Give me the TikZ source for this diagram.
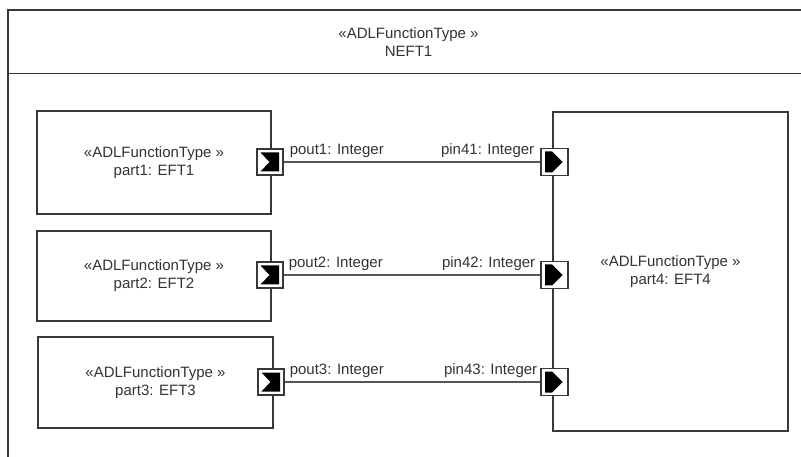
\documentclass[tikz,border=0pt]{standalone}
\usepackage{fontspec}
\setmainfont{Liberation Sans}
\definecolor{edge}{HTML}{383838}
\definecolor{wire}{HTML}{555555}
\definecolor{ink}{HTML}{333333}
\begin{document}
\begin{tikzpicture}[x=1pt,y=-1pt,
  every node/.style={font=\fontsize{15}{18}\selectfont, text=ink},
  part/.style={draw=edge, line width=1.3pt, fill=white, align=center, inner sep=0pt},
  portbox/.style={draw=edge, line width=1.2pt, fill=white, minimum width=26pt, minimum height=26pt, inner sep=0pt},
  conn/.style={draw=wire, line width=1.3pt},
  lbl/.style={inner sep=0pt}]
\useasboundingbox (0,0) rectangle (801,457);
\clip (0,0) rectangle (801,457);
% outer frame
\draw[edge, line width=1.4pt] (8,470) -- (8,10) -- (812,10) -- (812,470);
\coordinate (hl) at (8,73.5);
\coordinate (hr) at (812,73.5);
\draw[edge, line width=1.4pt] (hl) -- (hr);
\node[align=center] (title) at (408.5,42) {«ADLFunctionType »\\NEFT1};
% parts
\node[part, minimum width=234pt, minimum height=103pt] (p1) at (154,162.5) {«ADLFunctionType »\\part1: EFT1};
\node[part, minimum width=234pt, minimum height=90pt] (p2) at (154,276) {«ADLFunctionType »\\part2: EFT2};
\node[part, minimum width=235pt, minimum height=91pt] (p3) at (155.5,382.5) {«ADLFunctionType »\\part3: EFT3};
\node[part, minimum width=235pt, minimum height=319pt] (p4) at (670.5,271.5) {«ADLFunctionType »\\part4: EFT4};
% ports
\node[portbox] (o1) at (270,162) {};
\node[portbox] (o2) at (270,275) {};
\node[portbox] (o3) at (271,382) {};
\node[portbox, minimum width=27pt, minimum height=27pt] (i1) at (554.5,162) {};
\node[portbox, minimum width=27pt, minimum height=27pt] (i2) at (554.5,275) {};
\node[portbox, minimum width=27pt, minimum height=27pt] (i3) at (554.5,382) {};
\foreach \p in {o1,o2,o3}
  \fill[black] ([shift={(-9.5,-9.5)}]\p.center) -- ++(18.5,0) -- ++(0,19) -- ++(-18.5,0) -- ++(9,-9.5) -- cycle;
\foreach \p in {i1,i2,i3}
  \fill[black] ([shift={(-9.5,-10.5)}]\p.center) -- ++(7,0) -- ++(10.5,10.5) -- ++(-10.5,10.5) -- ++(-7,0) -- cycle;
% connectors
\draw[conn] (o1.east) -- (i1.west);
\draw[conn] (o2.east) -- (i2.west);
\draw[conn] (o3.east) -- (i3.west);
% labels
\node[lbl, anchor=base west] (lo1) at ([shift={(6,-7.5)}]o1.east) {pout1: Integer};
\node[lbl, anchor=base west] (lo2) at ([shift={(5,-7.5)}]o2.east) {pout2: Integer};
\node[lbl, anchor=base west] (lo3) at ([shift={(5,-8)}]o3.east) {pout3: Integer};
\node[lbl, anchor=base east] (li1) at ([shift={(-6,-7.5)}]i1.west) {pin41: Integer};
\node[lbl, anchor=base east] (li2) at ([shift={(-5,-7.5)}]i2.west) {pin42: Integer};
\node[lbl, anchor=base east] (li3) at ([shift={(-3,-8)}]i3.west) {pin43: Integer};
\end{tikzpicture}
\end{document}
